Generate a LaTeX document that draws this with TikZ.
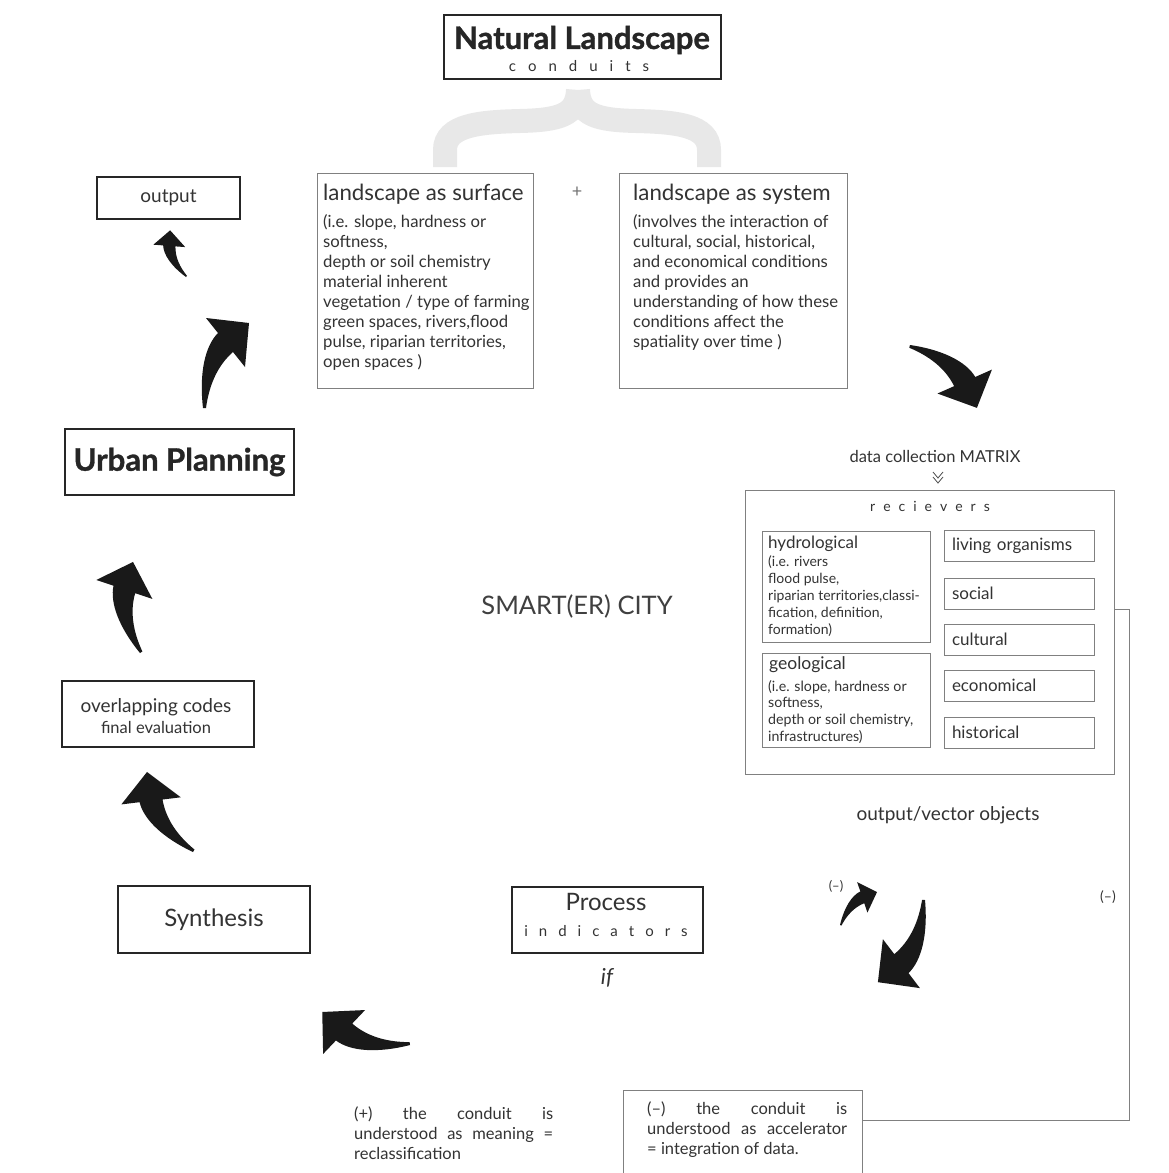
\documentclass[tikz,border=0pt]{standalone}
\usepackage{fontspec}
\setmainfont{Lato}
\newcommand\hs[1]{\hspace{#1pt}}
\newcommand\fatarrow[3]{%
  \fill[arrowfill, shift={#1}, rotate=#2, scale=#3, yscale=-1]
    (0,0) .. controls (-4,35) and (2,62) .. (15,75) -- (3,90) -- (46,85) -- (42,41) -- (30,56)
    .. controls (14,42) and (6,22) .. (3,0) -- cycle;}
\begin{document}
\begin{tikzpicture}[x=1pt,y=-1pt,
  boxk/.style={draw=black!85, line width=1.3pt, inner sep=0pt},
  boxg/.style={draw=black!50, line width=0.8pt, inner sep=0pt},
  tx/.style={inner sep=0pt, text=black!80},
  gline/.style={draw=black!50, line width=0.8pt},
  arrowfill/.style={fill=black!90},
  bracestyle/.style={draw=black!9, line width=24pt, line cap=butt}
]
\useasboundingbox[fill=white] (0,0) rectangle (1168,1173);

% brace
\draw[bracestyle] (445,167) -- (445,150) .. controls (445,125) and (480,122) .. (520,121)
   .. controls (560,120) and (577,115) .. (578,90);
\draw[bracestyle] (709,167) -- (709,150) .. controls (709,125) and (676,122) .. (636,121)
   .. controls (596,120) and (579,115) .. (578,90);

% title
\node[boxk, fill=white, minimum width=277pt, minimum height=64pt] (nl) at (582.5,47) {};
\node[tx, text=black!85, font=\fontsize{31}{33}\selectfont\bfseries\addfontfeature{FakeBold=1.2}] (nlt) at (582,40) {Natural Landscape};
\node[tx, font=\fontsize{15}{18}\selectfont] (nlc) at (579,66) {c\hs{12}o\hs{12}n\hs{12}d\hs{12}u\hs{12}i\hs{12}t\hs{12}s};

% output
\node[boxk, minimum width=143pt, minimum height=42pt, font=\fontsize{19}{21}\selectfont, text=black!80] (out) at (168.5,198) {output};

% surface
\node[boxg, minimum width=216pt, minimum height=215pt] (surf) at (425,280.5) {};
\node[tx, anchor=north west, font=\fontsize{22.3}{24}\selectfont] (surft) at (323,184) {landscape as surface};
\node[tx, anchor=north west, align=left, font=\fontsize{16.7}{20}\selectfont] (surfb) at (323,214)
 {(i.e. slope, hardness or\\softness,\\depth or soil chemistry\\material inherent\\vegetation / type of farming\\green spaces, rivers,flood\\pulse, riparian territories,\\open spaces )};

\node[tx, text=black!55, font=\fontsize{18}{20}\selectfont] (plus) at (577,192) {+};

% system
\node[boxg, minimum width=228pt, minimum height=215pt] (sys) at (733,280.5) {};
\node[tx, anchor=north west, font=\fontsize{22.3}{24}\selectfont] (syst) at (633,184) {landscape as system};
\node[tx, anchor=north west, align=left, font=\fontsize{16.7}{20}\selectfont] (sysb) at (633,214)
 {(involves the interaction of\\cultural, social, historical,\\and economical conditions\\and provides an\\understanding of how these\\conditions affect the\\spatiality over time )};

% urban planning
\node[boxk, minimum width=229pt, minimum height=66pt, text=black!85, font=\fontsize{31}{33}\selectfont\bfseries\addfontfeature{FakeBold=1}] (urban) at (179.5,462) {Urban Planning};

% data collection
\node[tx, font=\fontsize{16.5}{18}\selectfont] (matrix) at (935,456) {data collection MATRIX};
\coordinate (chev) at (938,472);
\draw[black!70, line width=0.8pt] ([xshift=-5pt]chev) -- ([yshift=-6pt]chev) -- ([xshift=5pt]chev);
\draw[black!70, line width=0.8pt] ([xshift=-5pt,yshift=-5pt]chev) -- ([yshift=-11pt]chev) -- ([xshift=5pt,yshift=-5pt]chev);

% receivers
\node[boxg, minimum width=369pt, minimum height=284pt] (recv) at (929.5,632) {};
\node[tx, font=\fontsize{14}{16}\selectfont] (recvt) at (930,506) {r\hs{8}e\hs{8}c\hs{8}i\hs{8}e\hs{8}v\hs{8}e\hs{8}r\hs{8}s};

\node[boxg, minimum width=168pt, minimum height=111pt] (hyd) at (846,586.5) {};
\node[tx, anchor=north west, font=\fontsize{17}{19}\selectfont] (hydt) at (768,536) {hydrological};
\node[tx, anchor=north west, align=left, font=\fontsize{14}{17}\selectfont] (hydb) at (768,555)
 {(i.e. rivers\\flood pulse,\\riparian territories,classi-\\fication, definition,\\formation)};

\node[boxg, minimum width=168pt, minimum height=94pt] (geo) at (846,700) {};
\node[tx, anchor=north west, font=\fontsize{17.5}{19}\selectfont] (geot) at (769,656) {geological};
\node[tx, anchor=north west, align=left, font=\fontsize{14.2}{16.7}\selectfont] (geob) at (768,680)
 {(i.e. slope, hardness or\\softness,\\depth or soil chemistry,\\infrastructures)};

\tikzset{rb/.style={boxg, minimum width=150pt, minimum height=31pt, text width=134pt, inner xsep=8pt, align=left, text=black!80, font=\fontsize{17}{19}\selectfont}}
\node[rb] (liv) at (1019,546) {living organisms};
\node[rb] (soc) at (1019,593.5) {social};
\node[rb] (cul) at (1019,639.5) {cultural};
\node[rb] (eco) at (1019,685.5) {economical};
\node[rb] (his) at (1019,732.5) {historical};

% smart city
\node[tx, text=black!75, font=\fontsize{25.5}{28}\selectfont] (smart) at (577,606) {SMART(ER) CITY};

% overlapping
\node[boxk, minimum width=192pt, minimum height=66pt] (ovl) at (158,714) {};
\node[tx, font=\fontsize{19}{21}\selectfont] (ovl1) at (156,707) {overlapping codes};
\node[tx, font=\fontsize{16.5}{18}\selectfont] (ovl2) at (156,727) {final evaluation};

% synthesis
\node[boxk, minimum width=192pt, minimum height=67pt, text=black!80, font=\fontsize{24}{26}\selectfont] (syn) at (214,919.5) {Synthesis};

% process
\node[boxk, minimum width=191pt, minimum height=66pt] (proc) at (607.5,920) {};
\node[tx, font=\fontsize{24}{26}\selectfont] (proct) at (606,902) {Process};
\node[tx, font=\fontsize{15}{18}\selectfont] (proci) at (606,931) {i\hs{11}n\hs{11}d\hs{11}i\hs{11}c\hs{11}a\hs{11}t\hs{11}o\hs{11}r\hs{11}s};
\node[tx, font=\itshape\fontsize{22}{24}\selectfont] (if) at (607,978) {if};

\node[tx, font=\fontsize{19}{21}\selectfont] (vec) at (948,815) {output/vector objects};
\node[tx, font=\fontsize{13}{15}\selectfont] (m1) at (836,886) {(--)};
\node[tx, font=\fontsize{14}{16}\selectfont] (m2) at (1108,897) {(--)};

% bottom texts
\node[boxg, minimum width=239pt, minimum height=110pt] (mbox) at (742.5,1145) {};
\node[tx, anchor=north west, text width=200pt, align=justify, font=\fontsize{16.5}{20}\selectfont] (mtext) at (647,1101)
 {(--) the conduit is\linebreak understood as accelerator\linebreak = integration of data.};
\node[tx, anchor=north west, text width=199pt, align=justify, font=\fontsize{16.5}{20}\selectfont] (ptext) at (354,1106)
 {(+) the conduit is\linebreak understood as meaning =\linebreak reclassification};

% connector
\coordinate (c609) at (0,609);
\coordinate (c1120) at (0,1120);
\draw[gline] (recv.east |- c609) -| (1129,1120) -- (mbox.east |- c1120);

% fat curved arrows
\fatarrow{(186,277)}{47.2}{0.51}
\fatarrow{(203,408)}{0}{1.0}
\fatarrow{(910,345)}{-104.8}{0.95}
\fatarrow{(140,653)}{32.8}{0.945}
\fatarrow{(193,852)}{58.3}{0.955}
\fatarrow{(410,1045)}{97.8}{0.97}
\fatarrow{(840,925)}{-19.9}{0.513}
\fatarrow{(925,900)}{-181.4}{0.98}
\end{tikzpicture}
\end{document}
